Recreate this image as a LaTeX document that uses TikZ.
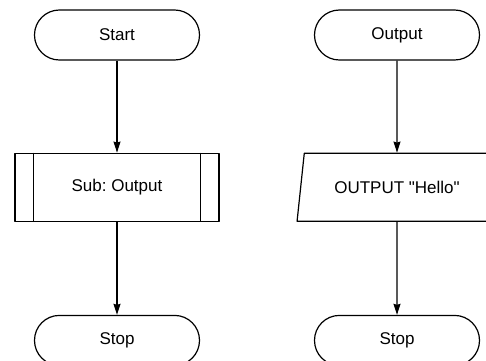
\documentclass[tikz,border=0pt]{standalone}
\usepackage{fontspec}
\setmainfont{Liberation Sans}
\usetikzlibrary{arrows.meta,positioning,shapes.geometric}
\frenchspacing

\begin{document}
\begin{tikzpicture}[x=1pt, y=1pt, line width=1.2pt, line join=round, >={Stealth[length=11pt,width=7pt,inset=1pt]},
    every node/.style={font=\fontsize{17}{20}\selectfont},
    terminal/.style={draw, rounded corners=24.9pt, minimum width=165pt, minimum height=50pt},
    subproc/.style={draw, minimum width=204pt, minimum height=68pt},
    iobox/.style={draw, trapezium, trapezium left angle=75, trapezium right angle=105,
        trapezium stretches=true, minimum width=200pt, minimum height=68pt}]
    \clip (0,0) rectangle (486,-360);

    % left chart
    \node[terminal] (start) at (117,-35) {Start};
    \node[subproc, below=92pt of start] (sub) {Sub: Output};
    \node[terminal, below=93pt of sub] (stop) {Stop};
    \draw ([xshift=19pt]sub.north west) -- ([xshift=19pt]sub.south west);
    \draw ([xshift=-19pt]sub.north east) -- ([xshift=-19pt]sub.south east);

    % right chart
    \node[terminal] (output) at (397,-35) {Output};
    \node[iobox, below=92pt of output] (hello) {OUTPUT \textquotedbl Hello\textquotedbl};
    \node[terminal, below=93pt of hello] (stopb) {Stop};

    \draw[->] (start) -- (sub);
    \draw[->] (sub) -- (stop);
    \draw[->] (output) -- (hello);
    \draw[->] (hello) -- (stopb);
\end{tikzpicture}
\end{document}
